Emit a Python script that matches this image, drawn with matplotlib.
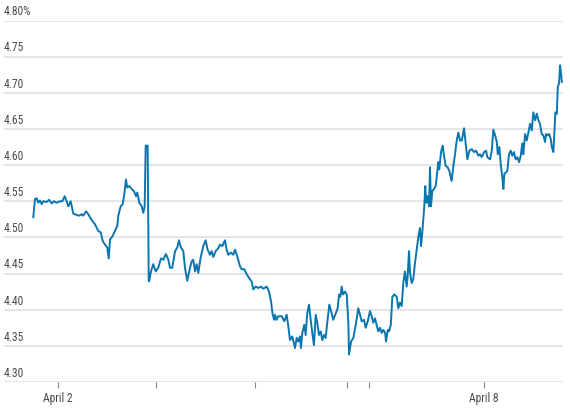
import matplotlib
matplotlib.use("Agg")
import matplotlib.pyplot as plt
import matplotlib.transforms as mtransforms

# position in trading days from the April 2 tick
days = [
    -0.251, -0.233, -0.216, -0.200, -0.183, -0.165, -0.149, -0.115, -0.091, -0.064,
    -0.041, -0.013, 0.020, 0.044, 0.068, 0.088, 0.105, 0.129, 0.155, 0.190,
    0.213, 0.241, 0.257, 0.284, 0.308, 0.342, 0.376, 0.409, 0.433, 0.454,
    0.477, 0.500, 0.515, 0.528, 0.555, 0.579, 0.602, 0.612, 0.636, 0.657,
    0.673, 0.690, 0.703, 0.724, 0.748, 0.771, 0.792, 0.805, 0.825, 0.850,
    0.866, 0.880, 0.890, 0.910, 0.921,
    0.924, 0.944, 0.967, 0.992, 1.018, 1.045, 1.069, 1.096, 1.120, 1.137,
    1.160, 1.188, 1.211, 1.228, 1.248, 1.272, 1.289, 1.312, 1.340, 1.357,
    1.373, 1.391, 1.408, 1.424, 1.448, 1.475, 1.499, 1.519, 1.543, 1.560,
    1.576, 1.601, 1.627, 1.644, 1.668, 1.695, 1.712, 1.729, 1.756, 1.779,
    1.797, 1.824, 1.847, 1.865, 1.891, 1.915, 1.939, 1.966, 1.982, 2.007,
    2.033, 2.060, 2.084, 2.118, 2.142, 2.162, 2.179, 2.195,
    2.203, 2.220, 2.236, 2.271, 2.297, 2.321, 2.338, 2.355, 2.378, 2.406,
    2.423, 2.439, 2.456, 2.466, 2.480, 2.500, 2.514, 2.530, 2.548, 2.565,
    2.581, 2.598, 2.616, 2.632, 2.649, 2.666, 2.683, 2.700, 2.717, 2.733,
    2.754, 2.778, 2.794, 2.819, 2.839, 2.853, 2.866, 2.880, 2.893, 2.914,
    2.931, 2.947, 2.954, 2.975, 2.998, 3.022, 3.048, 3.066, 3.083, 3.106,
    3.123, 3.144, 3.167, 3.184, 3.200, 3.218, 3.235, 3.251, 3.269, 3.286,
    3.302, 3.320, 3.330, 3.347, 3.360, 3.378, 3.394, 3.414,
    3.438, 3.454, 3.471, 3.489, 3.505, 3.522, 3.539, 3.549, 3.563, 3.573,
    3.590, 3.606, 3.624, 3.641, 3.657, 3.674, 3.685, 3.698, 3.708, 3.718,
    3.728, 3.738, 3.752, 3.766, 3.776, 3.786, 3.799, 3.816, 3.834, 3.850,
    3.860, 3.870, 3.888, 3.905, 3.918, 3.935, 3.955, 3.972, 3.996, 4.013,
    4.030, 4.047, 4.064, 4.081,
    4.099, 4.122, 4.139, 4.155, 4.176, 4.200, 4.223, 4.244, 4.267, 4.284,
    4.301, 4.325, 4.345, 4.358, 4.386, 4.403, 4.419, 4.437, 4.454, 4.464,
    4.480, 4.494, 4.510, 4.521, 4.531, 4.548, 4.561, 4.578, 4.595, 4.611,
    4.628, 4.646, 4.662, 4.680, 4.697, 4.713, 4.723, 4.741, 4.758, 4.774,
    4.792, 4.809, 4.825, 4.843, 4.860, 4.876, 4.893, 4.910, 4.927, 4.944,
    4.954, 4.967, 4.985, 5.002, 5.012, 5.028, 5.038, 5.049, 5.063, 5.073,
    5.086, 5.096, 5.107, 5.114,
]

# 10-year yield, percent
yields = [
    4.528, 4.553, 4.554, 4.548, 4.551, 4.546, 4.550, 4.549, 4.552, 4.547,
    4.550, 4.548, 4.550, 4.550, 4.557, 4.550, 4.543, 4.550, 4.533, 4.531,
    4.530, 4.532, 4.530, 4.536, 4.532, 4.524, 4.518, 4.509, 4.507, 4.495,
    4.490, 4.486, 4.471, 4.497, 4.502, 4.509, 4.516, 4.530, 4.543, 4.546,
    4.560, 4.580, 4.569, 4.571, 4.567, 4.564, 4.557, 4.562, 4.548, 4.543,
    4.534, 4.543, 4.627, 4.627, 4.442,
    4.439, 4.453, 4.463, 4.453, 4.458, 4.471, 4.469, 4.477, 4.469, 4.458,
    4.458, 4.481, 4.486, 4.496, 4.486, 4.481, 4.458, 4.440, 4.458, 4.467,
    4.469, 4.453, 4.463, 4.451, 4.472, 4.488, 4.496, 4.483, 4.476, 4.481,
    4.473, 4.481, 4.485, 4.490, 4.488, 4.496, 4.483, 4.476, 4.479, 4.476,
    4.483, 4.472, 4.460, 4.456, 4.456, 4.449, 4.444, 4.439, 4.428, 4.432,
    4.430, 4.432, 4.429, 4.432, 4.425, 4.412, 4.393, 4.386,
    4.393, 4.386, 4.391, 4.391, 4.384, 4.393, 4.377, 4.358, 4.363, 4.347,
    4.361, 4.356, 4.363, 4.347, 4.368, 4.379, 4.365, 4.395, 4.407, 4.386,
    4.368, 4.351, 4.393, 4.382, 4.365, 4.370, 4.358, 4.365, 4.361, 4.382,
    4.407, 4.395, 4.386, 4.395, 4.402, 4.421, 4.418, 4.432, 4.421, 4.425,
    4.421, 4.382, 4.338, 4.356, 4.361, 4.379, 4.402, 4.393, 4.384, 4.386,
    4.375, 4.384, 4.398, 4.391, 4.382, 4.388, 4.379, 4.370, 4.375, 4.368,
    4.372, 4.368, 4.356, 4.372, 4.370, 4.379, 4.418, 4.421,
    4.418, 4.402, 4.410, 4.405, 4.437, 4.453, 4.432, 4.446, 4.481, 4.451,
    4.437, 4.442, 4.465, 4.483, 4.500, 4.513, 4.488, 4.507, 4.525, 4.543,
    4.571, 4.548, 4.557, 4.543, 4.597, 4.543, 4.564, 4.567, 4.571, 4.592,
    4.604, 4.594, 4.618, 4.627, 4.613, 4.599, 4.597, 4.592, 4.578, 4.599,
    4.615, 4.634, 4.645, 4.634,
    4.634, 4.651, 4.629, 4.608, 4.620, 4.622, 4.618, 4.620, 4.613, 4.615,
    4.611, 4.618, 4.620, 4.611, 4.608, 4.620, 4.649, 4.641, 4.632, 4.615,
    4.625, 4.601, 4.583, 4.567, 4.588, 4.590, 4.592, 4.615, 4.620, 4.613,
    4.618, 4.608, 4.611, 4.604, 4.613, 4.630, 4.615, 4.643, 4.634, 4.645,
    4.657, 4.648, 4.673, 4.662, 4.671, 4.662, 4.657, 4.643, 4.641, 4.632,
    4.643, 4.641, 4.643, 4.636, 4.625, 4.618, 4.643, 4.673, 4.671, 4.708,
    4.713, 4.738, 4.726, 4.715,
]

# day boundaries on the x axis
day_ticks = [0.0, 0.995, 2.0, 2.934, 3.157, 4.325]
day_labels = ["April 2", "", "", "", "", "April 8"]

y_ticks = [4.30, 4.35, 4.40, 4.45, 4.50, 4.55, 4.60, 4.65, 4.70, 4.75, 4.80]

plt.rcParams["font.family"] = ["Roboto Condensed", "Liberation Sans Narrow",
                               "Roboto", "DejaVu Sans"]

fig = plt.figure(figsize=(5.7, 4.12), dpi=100)
ax = fig.add_axes([4 / 570, 30 / 412, 559 / 570, 361.5 / 412])

for v in y_ticks:
    ax.axhline(v, color="#dedede", lw=1.1, zorder=0)

ax.plot(days, yields, color="#0a76b0", lw=1.4, solid_joinstyle="round", zorder=2)

ax.set_xlim(-0.548, 5.126)
ax.set_ylim(4.30, 4.80)
ax.set_yticks([])

ax.set_xticks(day_ticks)
ax.set_xticklabels(day_labels)
ax.tick_params(axis="x", length=4, width=0.8, color="#888888",
               labelsize=8.4, labelcolor="#4a4a4a", pad=3)

for s in ax.spines.values():
    s.set_visible(False)

trans = mtransforms.blended_transform_factory(ax.transAxes, ax.transData)
for v in y_ticks:
    lab = f"{v:.2f}%" if v == y_ticks[-1] else f"{v:.2f}"
    ax.text(0, v + 0.003, lab, transform=trans, ha="left", va="bottom",
            fontsize=8.4, color="#4a4a4a")

fig.savefig("out.png", dpi=100)
